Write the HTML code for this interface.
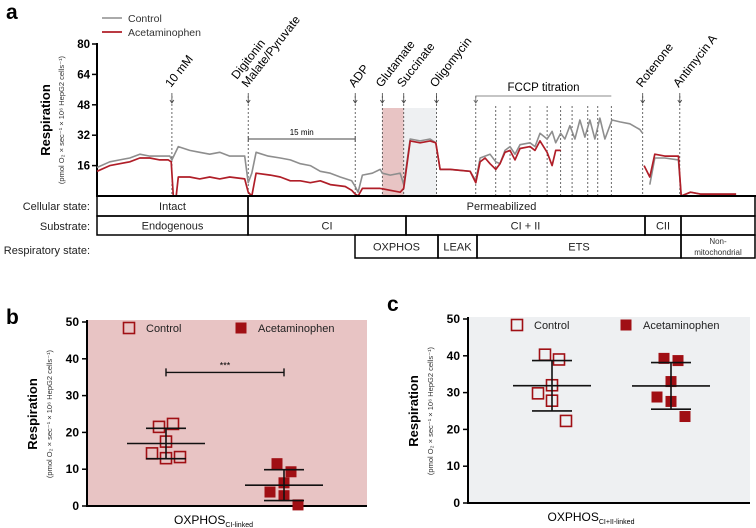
<!DOCTYPE html>
<html><head><meta charset="utf-8"><style>
body{margin:0;background:#fff}
svg{display:block;font-family:"Liberation Sans",Arial,sans-serif}
</style></head><body>
<svg id="fig" width="756" height="528" viewBox="0 0 756 528" xmlns="http://www.w3.org/2000/svg">
<g id="pa"></g>
<g id="pb"></g>
<g id="pc"></g>
</svg>
<script>
// ---------- Panel a data ----------
const yTicksA = [16, 32, 48, 64, 80];
const ctrlTime = [0,1.8,3.2,4.6,6,7.4,8.8,9.5,10.2,10.5,11.4,13,14.4,15.8,17.2,18.6,20.7,21.2,21.7,22.3,24,25.7,27.1,28.5,29.9,31.3,32.7,34.1,35.7,36.2,36.6,37.2,38.6,39.7,40,41.1,42.5,43,43.9,45.3,46.7,47.5,48.1,49.5,52.3,53.1,53.7,55.1,55.9,56.5,57.2,57.9,58.6,59.3,60.7,61.4,62.1,63.1,63.8,64.3,65,65.6,66.3,67,67.7,68.4,69.1,69.8,70.5,71.2,72.2,73.3,74.7,76.1,76.5,76.7,77.5,78.2,79.6,81.5,81.9,83.2,84.6,86,87.3,89.6];
const ctrlVal  = [15,18,19,20,22,21,21,21,21,19,26,24,23,22,23,21,21,7,12,23,21,20,19,17,16,13,12,10,8,5,2,11,12,14,12,11,12,6,30,29,30,28,14,14,13,8,20,22,18,17,24,26,22,27,28,26,33,30,34,28,33,30,37,30,40,31,40,30,41,30,40,39,38,35,33,null,6,20,20,19,0,2,1,1,1,1];
const apapTime = [0,1.8,3.2,4.6,6,7.4,8.8,10,10.4,10.7,11.1,11.4,13,14.4,15.8,17.2,18.6,20.7,21.2,21.7,22.3,24.3,25.7,27.1,28.5,29.9,31.3,32.7,34.8,35.7,36.2,36.6,37.2,38.6,39.7,41.1,42.5,43,43.9,45.3,46.7,47.5,48.1,49.5,52.3,53.1,53.7,54.4,55.1,55.9,56.5,57.2,57.9,58.6,59.3,60.7,61.4,62.1,63.1,63.8,64.3,65,65.1,76.7,77.5,78.2,79.6,81.5,81.9,83.2,84.6,86,87.3,89.6];
const apapVal  = [13,16,17,18,20,20,19,19,18,0,0,10,10,9,10,9,10,9,2,0,12,11,10,8,8,7,8,6,5,3,1,0,4,4,4,3,2,4,29,28,29,28,14,14,13,7,18,20,17,14,17,23,24,19,25,26,24,29,23,16,24,24,null,16,10,22,21,21,0,2,1,1,1,1];
const eventNames = ["10 mM","Malate/Pyruvate","ADP","Glutamate","Succinate","Oligomycin","Rotenone","Antimycin A"];
const eventTimes = [10.5,21.2,36.2,40,43,47.6,76.5,81.7];
const fccpTimes = [53.1,55.9,57.9,60.7,63.1,65,66.6,68.8,70.2,72.1];

// ---------- Panel b/c data ----------
const groups = ["Control","Acetaminophen"];
const bCtrl = [21.5,22.3,17.5,14.3,13,13.3];
const bApap = [11.5,9.3,6.3,3.8,2.8,0.3];
const cCtrl = [40.3,39,32,29.8,27.8,22.3];
const cApap = [39.3,38.7,33,28.8,27.6,23.5];
const jitter = [-0.5,0.5,0,-1,0,1];
const yTicksBC = [0,10,20,30,40,50];

const NS="http://www.w3.org/2000/svg";
function mk(parent, tag, attrs, txt){
  const e=document.createElementNS(NS,tag);
  for(const k in attrs) e.setAttribute(k, attrs[k]);
  if(txt!==undefined) e.textContent=txt;
  parent.appendChild(e); return e;
}
const RED="#b01e28", GRAY="#8e8e8e", DRED="#a00f14";

// ================= Panel A =================
(function(){
  const g=document.getElementById('pa');
  const x0=97, x1=739, y0=196;
  const xs=t=>x0+(x1-x0)*t/90;
  const ys=v=>y0-v*(152/80);
  let t;
  t=mk(g,'text',{x:6,y:19,'font-size':21,'font-weight':'bold'},'a');
  
  
  let r=mk(g,'rect',{x:xs(40),y:108,width:xs(43)-xs(40),height:y0-108,fill:'#e8c4c4'});
  
  
  r=mk(g,'rect',{x:xs(43),y:108,width:xs(47.6)-xs(43),height:y0-108,fill:'#eef0f2'});
  
  
  let l=mk(g,'line',{x1:102,x2:122,y1:18,y2:18,stroke:GRAY,'stroke-width':1.6});
  
  
  t=mk(g,'text',{x:128,y:22,'font-size':10.5,fill:'#333'},'Control');
  
  
  l=mk(g,'line',{x1:102,x2:122,y1:32,y2:32,stroke:RED,'stroke-width':1.8});
  
  
  t=mk(g,'text',{x:128,y:36,'font-size':10.5,fill:'#333'},'Acetaminophen');
  
  
  l=mk(g,'line',{x1:x0,x2:x0,y1:43,y2:y0+1,stroke:'#000','stroke-width':2});
  
  
  yTicksA.forEach(v=>{
    const tk=mk(g,'line',{x1:x0-5,x2:x0,y1:ys(v),y2:ys(v),stroke:'#000','stroke-width':1.5});
    
    
    const tl=mk(g,'text',{x:x0-7,y:ys(v)+4,'font-size':11.5,'font-weight':'bold','text-anchor':'end'},v);
    
    
  });
  t=mk(g,'text',{transform:'translate(50,120) rotate(-90)','font-size':13,'font-weight':'bold','text-anchor':'middle'},'Respiration');
  
  
  t=mk(g,'text',{transform:'translate(64,120) rotate(-90)','font-size':7.5,'text-anchor':'middle',fill:'#333'},'(pmol O\u2082 \u00d7 sec\u207b\u00b9 \u00d7 10\u2076 HepG2 cells\u207b\u00b9)');
  
  
  eventTimes.forEach((et,i)=>{
    const x=xs(et);
    const d=mk(g,'line',{x1:x,x2:x,y1:96,y2:y0,stroke:'#444','stroke-width':0.8,'stroke-dasharray':'2,2'});
    
    
    const a=mk(g,'path',{d:`M${x},93 L${x},103 M${x-2},100 L${x},103 L${x+2},100`,stroke:'#444','stroke-width':0.8,fill:'none'});
    
    
    const lb=mk(g,'text',{transform:`translate(${x-1},88) rotate(-52)`,'font-size':12},eventNames[i]);
    
    
    if(i===1){
      const lb2=mk(g,'text',{transform:`translate(${x-1},88) rotate(-52) translate(0,-13)`,'font-size':12},'Digitonin');
      
      
    }
  });
  fccpTimes.forEach((ft,i)=>{
    const x=xs(ft);
    const d=mk(g,'line',{x1:x,x2:x,y1:i===0?96:106,y2:y0,stroke:'#444','stroke-width':0.8,'stroke-dasharray':'2,2'});
    
    
  });
  let fx0=xs(fccpTimes[0]), fx1=xs(fccpTimes[fccpTimes.length-1]);
  let br=mk(g,'path',{d:`M${fx0},103 L${fx0},96 L${fx1},96 M${fx0-2},100 L${fx0},103 L${fx0+2},100`,stroke:'#666','stroke-width':0.8,fill:'none'});
  
  
  t=mk(g,'text',{x:(fx0+fx1)/2,y:91,'font-size':11.5,'text-anchor':'middle'},'FCCP titration');
  
  
  const sx0=xs(21.2), sx1=xs(36.2);
  br=mk(g,'path',{d:`M${sx0},139 L${sx1},139 M${sx0},136 L${sx0},142 M${sx1},136 L${sx1},142`,stroke:'#444','stroke-width':0.9,fill:'none'});
  
  
  t=mk(g,'text',{x:(sx0+sx1)/2,y:135,'font-size':8,'text-anchor':'middle'},'15 min');
  
  
  function pathOf(ts,vs){
    let d='',pen=false;
    ts.forEach((tt,i)=>{
      if(vs[i]===null){pen=false;return;}
      d+=(pen?'L':'M')+xs(tt).toFixed(1)+','+ys(vs[i]).toFixed(1)+' ';
      pen=true;
    });
    return d;
  }
  let p=mk(g,'path',{d:pathOf(ctrlTime,ctrlVal),stroke:GRAY,'stroke-width':1.6,fill:'none','stroke-linejoin':'round'});
  
  
  p=mk(g,'path',{d:pathOf(apapTime,apapVal),stroke:RED,'stroke-width':1.7,fill:'none','stroke-linejoin':'round'});
  
  
  l=mk(g,'line',{x1:x0,x2:756,y1:y0,y2:y0,stroke:'#000','stroke-width':2});
  
  
  const rowLabels=[['Cellular state:',206],['Substrate:',226],['Respiratory state:',250]];
  rowLabels.forEach(([s,y])=>{
    const tl=mk(g,'text',{x:90,y:y+4,'font-size':11,'text-anchor':'end',fill:'#222'},s);
    
    
  });
  const boxes=[
    [97,248,196,216,'Intact','intact-box'],[248,755,196,216,'Permeabilized','permeabilized-box'],
    [97,248,216,235,'Endogenous','endogenous-box'],[248,406,216,235,'CI','ci-box'],[406,645,216,235,'CI + II','ci-ii-box'],[645,681,216,235,'CII','cii-box'],[681,755,216,235,'','substrate-empty-box'],
    [355,438,235,258,'OXPHOS','oxphos-box'],[438,477,235,258,'LEAK','leak-box'],[477,681,235,258,'ETS','ets-box'],[681,755,235,258,'','nonmito-box']
  ];
  boxes.forEach(([a,b,c,d,s,n])=>{
    const rr=mk(g,'rect',{x:a,y:c,width:b-a,height:d-c,fill:'none',stroke:'#000','stroke-width':1.5});
    
    
    if(s){
      const tx=mk(g,'text',{x:(a+b)/2,y:(c+d)/2+4,'font-size':11,'text-anchor':'middle',fill:'#222'},s);
      
      
    }
  });
  t=mk(g,'text',{x:718,y:244,'font-size':8,'text-anchor':'middle',fill:'#333'},'Non-');
  
  
  t=mk(g,'text',{x:718,y:255,'font-size':8,'text-anchor':'middle',fill:'#333'},'mitochondrial');
  
  
})();

// ================= Panels B and C =================
function scatter(gid, L, ctrl, apap, bg, letter, letterX, letterY, sub, showSig){
  const g=document.getElementById(gid);
  const {x0,x1,yTop,yBot,cx0,cx1}=L;
  const ys=v=>yBot-(yBot-yTop)*v/50;
  const xg=[cx0,cx1];
  let t=mk(g,'text',{x:letterX,y:letterY,'font-size':21,'font-weight':'bold'},letter);
  
  
  let r=mk(g,'rect',{x:x0,y:yTop-2,width:x1-x0,height:yBot-yTop+2,fill:bg});
  
  
  let l=mk(g,'line',{x1:x0,x2:x0,y1:yTop-2,y2:yBot+1,stroke:'#000','stroke-width':2});
  
  
  l=mk(g,'line',{x1:x0-1,x2:x1,y1:yBot,y2:yBot,stroke:'#000','stroke-width':2});
  
  
  yTicksBC.forEach(v=>{
    const tk=mk(g,'line',{x1:x0-5,x2:x0,y1:ys(v),y2:ys(v),stroke:'#000','stroke-width':1.5});
    
    
    const tl=mk(g,'text',{x:x0-8,y:ys(v)+4,'font-size':12,'font-weight':'bold','text-anchor':'end'},v);
    
    
  });
  const my=(yTop+yBot)/2;
  t=mk(g,'text',{transform:`translate(${x0-50},${my}) rotate(-90)`,'font-size':13,'font-weight':'bold','text-anchor':'middle'},'Respiration');
  
  
  t=mk(g,'text',{transform:`translate(${x0-35},${my}) rotate(-90)`,'font-size':7.5,'text-anchor':'middle',fill:'#333'},'(pmol O\u2082 \u00d7 sec\u207b\u00b9 \u00d7 10\u2076 HepG2 cells\u207b\u00b9)');
  
  
  t=mk(g,'text',{x:(x0+x1)/2-sub.length*1.5,y:yBot+18,'font-size':12,'text-anchor':'middle'},'OXPHOS');
  
  
  mk(t,'tspan',{'font-size':7,dy:3},sub);
  const ly=yTop+6;
  r=mk(g,'rect',{x:L.lg0-5.5,y:ly-5.5,width:11,height:11,fill:'none',stroke:DRED,'stroke-width':1.6});
  
  
  t=mk(g,'text',{x:L.lg0+17,y:ly+4,'font-size':11,fill:'#222'},groups[0]);
  
  
  r=mk(g,'rect',{x:L.lg1-5.5,y:ly-5.5,width:11,height:11,fill:DRED});
  
  
  t=mk(g,'text',{x:L.lg1+17,y:ly+4,'font-size':11,fill:'#222'},groups[1]);
  
  
  const stats=arr=>{const m=arr.reduce((a,b)=>a+b,0)/arr.length;const sd=Math.sqrt(arr.reduce((a,b)=>a+(b-m)*(b-m),0)/(arr.length-1));return [m,sd];};
  [ctrl,apap].forEach((arr,gi)=>{
    const cx=xg[gi];
    arr.forEach((v,i)=>{
      const px=cx+jitter[i]*14;
      const s=mk(g,'rect',{x:px-5.5,y:ys(v)-5.5,width:11,height:11,fill:gi===0?'none':DRED,stroke:DRED,'stroke-width':gi===0?1.6:0});
      
      
    });
    const [m,sd]=stats(arr);
    const lo=Math.max(0,m-sd), hi=m+sd;
    let e=mk(g,'path',{d:`M${cx-39},${ys(m)} L${cx+39},${ys(m)} M${cx},${ys(lo)} L${cx},${ys(hi)} M${cx-20},${ys(lo)} L${cx+20},${ys(lo)} M${cx-20},${ys(hi)} L${cx+20},${ys(hi)}`,stroke:'#111','stroke-width':1.6,fill:'none'});
    
    
  });
  if(showSig){
    const sy=ys(36.3);
    let s=mk(g,'path',{d:`M${cx0},${sy} L${cx1},${sy} M${cx0},${sy-4} L${cx0},${sy+4} M${cx1},${sy-4} L${cx1},${sy+4}`,stroke:'#111','stroke-width':1.4,fill:'none'});
    
    
    t=mk(g,'text',{x:(cx0+cx1)/2,y:sy-4,'font-size':9,'text-anchor':'middle'},'***');
    
    
  }
}
scatter('pb',{x0:87,x1:367,yTop:322,yBot:506,cx0:166,cx1:284,lg0:129,lg1:241},bCtrl,bApap,'#e8c4c4','b',6,324,'CI-linked',true);
scatter('pc',{x0:468,x1:750,yTop:319,yBot:503,cx0:552,cx1:671,lg0:517,lg1:626},cCtrl,cApap,'#eef0f2','c',387,311,'CI+II-linked',false);
</script>
</body></html>
